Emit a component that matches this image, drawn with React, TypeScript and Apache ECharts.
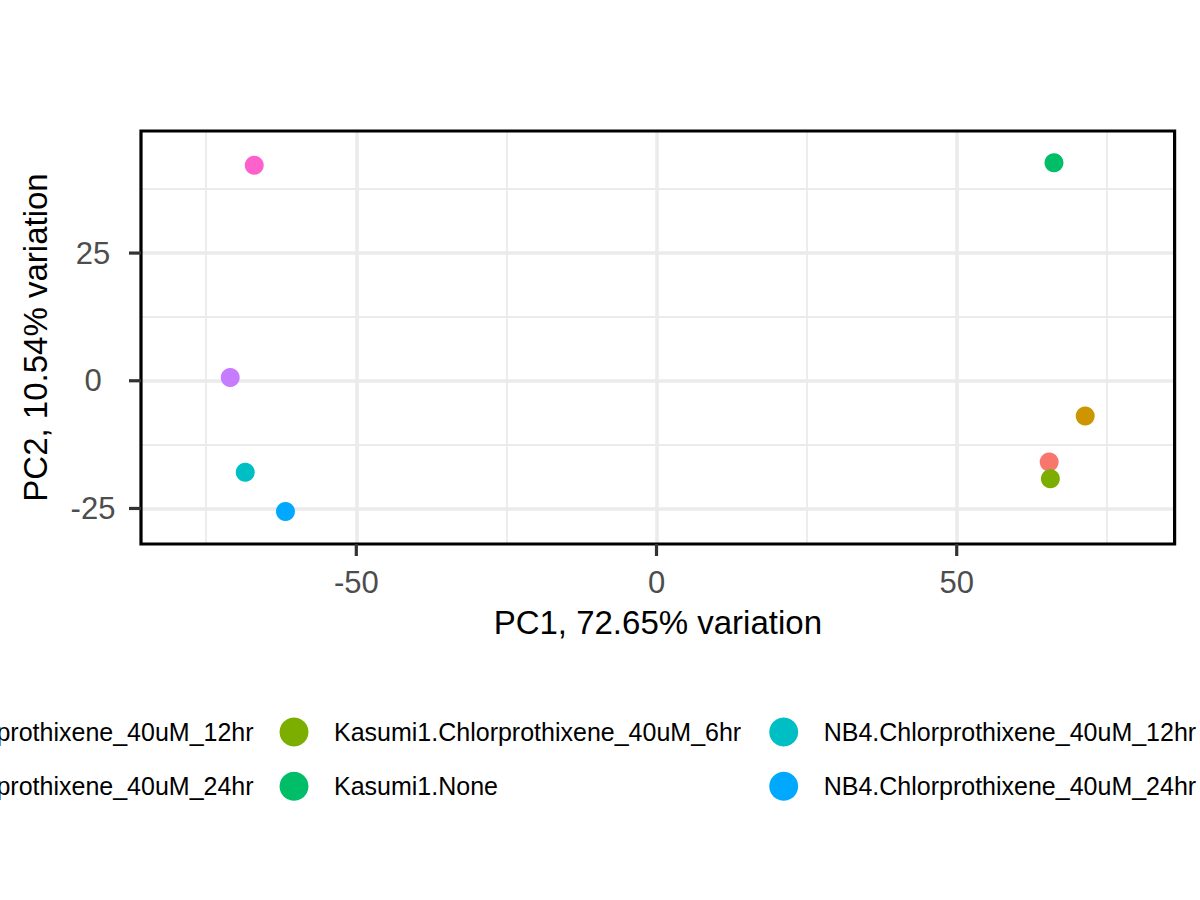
import { useEffect, useRef } from 'react';
import * as echarts from 'echarts';

// groups (legend order) and their ggplot hue colours
const groups = [
  'Kasumi1.Chlorprothixene_40uM_12hr',
  'Kasumi1.Chlorprothixene_40uM_24hr',
  'Kasumi1.Chlorprothixene_40uM_6hr',
  'Kasumi1.None',
  'NB4.Chlorprothixene_40uM_12hr',
  'NB4.Chlorprothixene_40uM_24hr',
  'NB4.Chlorprothixene_40uM_6hr',
  'NB4.None',
];
const colors = ['#F8766D', '#CD9600', '#7CAE00', '#00BE67', '#00BFC4', '#00A9FF', '#C77CFF', '#FF61CC'];

// PC1 / PC2 scores, one sample per group
const pc1 = [65.4, 71.4, 65.6, 66.2, -68.5, -61.8, -71.0, -67.0];
const pc2 = [-15.9, -6.9, -19.2, 42.7, -17.9, -25.6, 0.65, 42.2];

const xMajor = [-50, 0, 50];
const xMinor = [-75, -25, 25, 75];
const yMajor = [-25, 0, 25];
const yMinor = [-12.5, 12.5, 37.5];

const X_MIN = -85.86;
const X_MAX = 86.29;
const Y_MIN = -31.96;
const Y_MAX = 48.9;

const FONT = 'Liberation Sans';

// legend columns: 2 rows each, filled by column (outer ones run off the page)
const legendLefts = [-222, 279.5, 769.2, 1225];

function App() {
  const divEL = useRef<HTMLDivElement>(null);

  useEffect(() => {
    const instance = echarts.init(divEL.current as any, null, { renderer: 'svg' });

    const gridLines = [
      ...xMajor.map((v) => ({ xAxis: v, lineStyle: { width: 3.6 } })),
      ...xMinor.map((v) => ({ xAxis: v, lineStyle: { width: 1.8 } })),
      ...yMajor.map((v) => ({ yAxis: v, lineStyle: { width: 3.6 } })),
      ...yMinor.map((v) => ({ yAxis: v, lineStyle: { width: 1.8 } })),
    ];

    const option: any = {
      animation: false,
      textStyle: { fontFamily: FONT },
      grid: {
        left: 141,
        top: 131,
        right: 25.4,
        bottom: 356,
        show: false,
      },
      xAxis: {
        type: 'value',
        min: X_MIN,
        max: X_MAX,
        name: 'PC1, 72.65% variation',
        nameLocation: 'middle',
        nameGap: 62,
        nameTextStyle: { fontSize: 33, color: '#000', fontFamily: FONT },
        axisLine: { show: false, onZero: false },
        axisTick: { show: false },
        axisLabel: { customValues: xMajor, fontSize: 31, color: '#4D4D4D', margin: 22.6, fontFamily: FONT },
        splitLine: { show: false },
      },
      yAxis: {
        type: 'value',
        min: Y_MIN,
        max: Y_MAX,
        name: 'PC2, 10.54% variation',
        nameLocation: 'middle',
        nameGap: 89,
        nameTextStyle: { fontSize: 33, color: '#000', fontFamily: FONT },
        axisLine: { show: false, onZero: false },
        axisTick: { show: false },
        axisLabel: { customValues: yMajor, fontSize: 31, color: '#4D4D4D', margin: 48, align: 'center', fontFamily: FONT },
        splitLine: { show: false },
      },
      legend: legendLefts.map((left, c) => ({
        data: groups.slice(c * 2, c * 2 + 2),
        orient: 'vertical',
        left,
        top: 717.5,
        padding: 0,
        icon: 'circle',
        itemWidth: 70,
        itemHeight: 29,
        itemGap: 25.3,
        selectedMode: false,
        textStyle: { fontSize: 25, color: '#000', lineHeight: 29, fontFamily: FONT },
      })),
      series: [
        {
          type: 'scatter',
          name: 'grid',
          data: [],
          silent: true,
          markLine: {
            silent: true,
            symbol: ['none', 'none'],
            label: { show: false },
            lineStyle: { color: '#EBEBEB', type: 'solid' },
            emphasis: { disabled: true },
            data: gridLines,
          },
        },
        ...groups.map((g, i) => ({
          type: 'scatter',
          name: g,
          symbol: 'circle',
          symbolSize: 19,
          z: 6,
          itemStyle: { color: colors[i], opacity: 1 },
          data: [[pc1[i], pc2[i]]],
        })),
      ],
    };

    instance.setOption(option);

    // panel border and outward ticks, placed through the axes' own scales
    const x0 = instance.convertToPixel({ xAxisIndex: 0 }, X_MIN) as number;
    const x1 = instance.convertToPixel({ xAxisIndex: 0 }, X_MAX) as number;
    const y0 = instance.convertToPixel({ yAxisIndex: 0 }, Y_MIN) as number;
    const y1 = instance.convertToPixel({ yAxisIndex: 0 }, Y_MAX) as number;
    const elements: any[] = [
      {
        type: 'rect',
        z: 100,
        shape: { x: x0, y: y1, width: x1 - x0, height: y0 - y1 },
        style: { fill: 'none', stroke: '#000000', lineWidth: 3.2 },
      },
    ];
    xMajor.forEach((v) => {
      const px = instance.convertToPixel({ xAxisIndex: 0 }, v) as number;
      elements.push({
        type: 'line',
        z: 100,
        shape: { x1: px, y1: y0, x2: px, y2: y0 + 12 },
        style: { stroke: '#333333', lineWidth: 3.2 },
      });
    });
    yMajor.forEach((v) => {
      const py = instance.convertToPixel({ yAxisIndex: 0 }, v) as number;
      elements.push({
        type: 'line',
        z: 100,
        shape: { x1: x0 - 12, y1: py, x2: x0, y2: py },
        style: { stroke: '#333333', lineWidth: 3.2 },
      });
    });
    instance.setOption({ graphic: elements });

    return () => {
      instance.dispose();
    };
  }, []);

  return (
    <div
      ref={divEL}
      style={{ position: 'absolute', left: 0, top: 0, width: '1200px', height: '900px', background: '#fff' }}
    ></div>
  );
}

export default App;
